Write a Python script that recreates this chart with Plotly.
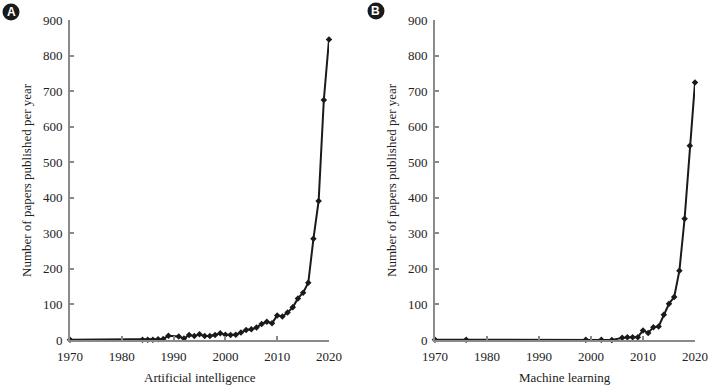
import plotly.graph_objects as go

years_ai = [1970, 1984, 1985, 1986, 1987, 1988, 1989, 1991, 1992, 1993, 1994, 1995,
            1996, 1997, 1998, 1999, 2000, 2001, 2002, 2003, 2004, 2005, 2006, 2007,
            2008, 2009, 2010, 2011, 2012, 2013, 2014, 2015, 2016, 2017, 2018, 2019, 2020]
papers_ai = [1, 1, 1, 1, 2, 3, 12, 10, 4, 14, 11, 16,
             11, 11, 14, 19, 15, 14, 15, 21, 28, 30, 35, 45,
             51, 47, 69, 66, 77, 92, 117, 133, 161, 285, 391, 675, 845]

years_ml = [1970, 1976, 1999, 2002, 2004, 2006, 2007, 2008, 2009, 2010, 2011,
            2012, 2013, 2014, 2015, 2016, 2017, 2018, 2019, 2020]
papers_ml = [1, 1, 1, 1, 0, 6, 8, 8, 8, 27, 20,
             36, 38, 71, 102, 121, 195, 341, 546, 724]

x_ticks = [1970, 1980, 1990, 2000, 2010, 2020]
y_ticks = [0, 100, 200, 300, 400, 500, 600, 700, 800, 900]
panel_titles = ["Artificial intelligence", "Machine learning"]
panel_letters = ["A", "B"]
y_title = "Number of papers published per year"

W, H = 709, 387
FONT = "Liberation Serif"
AXIS_GREY = "#8a8a8a"
TEXT = "#222222"
FS = 13


def px_x(p):
    return p / W


def px_y(p):
    return 1 - p / H


fig = go.Figure()

series = [(years_ai, papers_ai), (years_ml, papers_ml)]
x_px = [(70, 329), (435, 695)]
y_domain = [px_y(340), px_y(20)]

for i, (xs, ys) in enumerate(series):
    suffix = "" if i == 0 else str(i + 1)
    fig.add_trace(go.Scatter(
        x=xs, y=ys, mode="lines+markers",
        line=dict(color="#1a1a1a", width=2),
        marker=dict(symbol="diamond", size=5, color="#1a1a1a"),
        xaxis="x" + suffix, yaxis="y" + suffix,
        cliponaxis=False, showlegend=False, hoverinfo="skip",
    ))

axis_common = dict(
    showgrid=False, zeroline=False, showline=True, linecolor=AXIS_GREY, linewidth=2,
    ticks="inside", ticklen=4, tickwidth=2, tickcolor=AXIS_GREY,
    tickfont=dict(family=FONT, size=FS, color=TEXT),
    automargin=False,
)

layout = dict(
    width=W, height=H, margin=dict(l=0, r=0, t=0, b=0),
    paper_bgcolor="white", plot_bgcolor="white",
    font=dict(family=FONT, size=FS, color=TEXT),
)

for i in range(2):
    xk = "xaxis" if i == 0 else "xaxis2"
    yk = "yaxis" if i == 0 else "yaxis2"
    xa = "x" if i == 0 else "x2"
    ya = "y" if i == 0 else "y2"
    layout[xk] = dict(
        domain=[px_x(x_px[i][0]), px_x(x_px[i][1])], range=[1970, 2020], tickvals=x_ticks,
        anchor=ya, ticklabelstandoff=3,
        **axis_common,
    )
    layout[yk] = dict(
        domain=y_domain, range=[0, 900], tickvals=y_ticks,
        anchor=xa, ticklabelstandoff=3,
        **axis_common,
    )

fig.update_layout(**layout)

# axis titles
for i in range(2):
    cx = (x_px[i][0] + x_px[i][1]) / 2
    fig.add_annotation(text=panel_titles[i], xref="paper", yref="paper",
                       x=px_x(cx), y=px_y(377), showarrow=False,
                       xanchor="center", yanchor="middle",
                       font=dict(family=FONT, size=FS, color=TEXT))
    fig.add_annotation(text=y_title, xref="paper", yref="paper",
                       x=px_x(x_px[i][0] - 43), y=px_y(180), showarrow=False,
                       textangle=-90, xanchor="center", yanchor="middle",
                       font=dict(family=FONT, size=FS, color=TEXT))

# panel letters (black discs with white letters)
letter_pos = [(11, 12), (376, 11)]
for (px, py), letter in zip(letter_pos, panel_letters):
    r = 8.5
    fig.add_shape(type="circle", xref="paper", yref="paper",
                  x0=px_x(px - r), x1=px_x(px + r), y0=px_y(py + r), y1=px_y(py - r),
                  fillcolor="#1a1a1a", line=dict(width=0))
    fig.add_annotation(text="<b>" + letter + "</b>", xref="paper", yref="paper",
                       x=px_x(px), y=px_y(py), showarrow=False,
                       font=dict(family="Liberation Sans", size=12, color="white"),
                       xanchor="center", yanchor="middle")

# remove the default 8px page margin so the figure sits at the window corner
fig.write_html("out.html", config={"displayModeBar": False},
               post_script="document.body.style.margin='0';")
